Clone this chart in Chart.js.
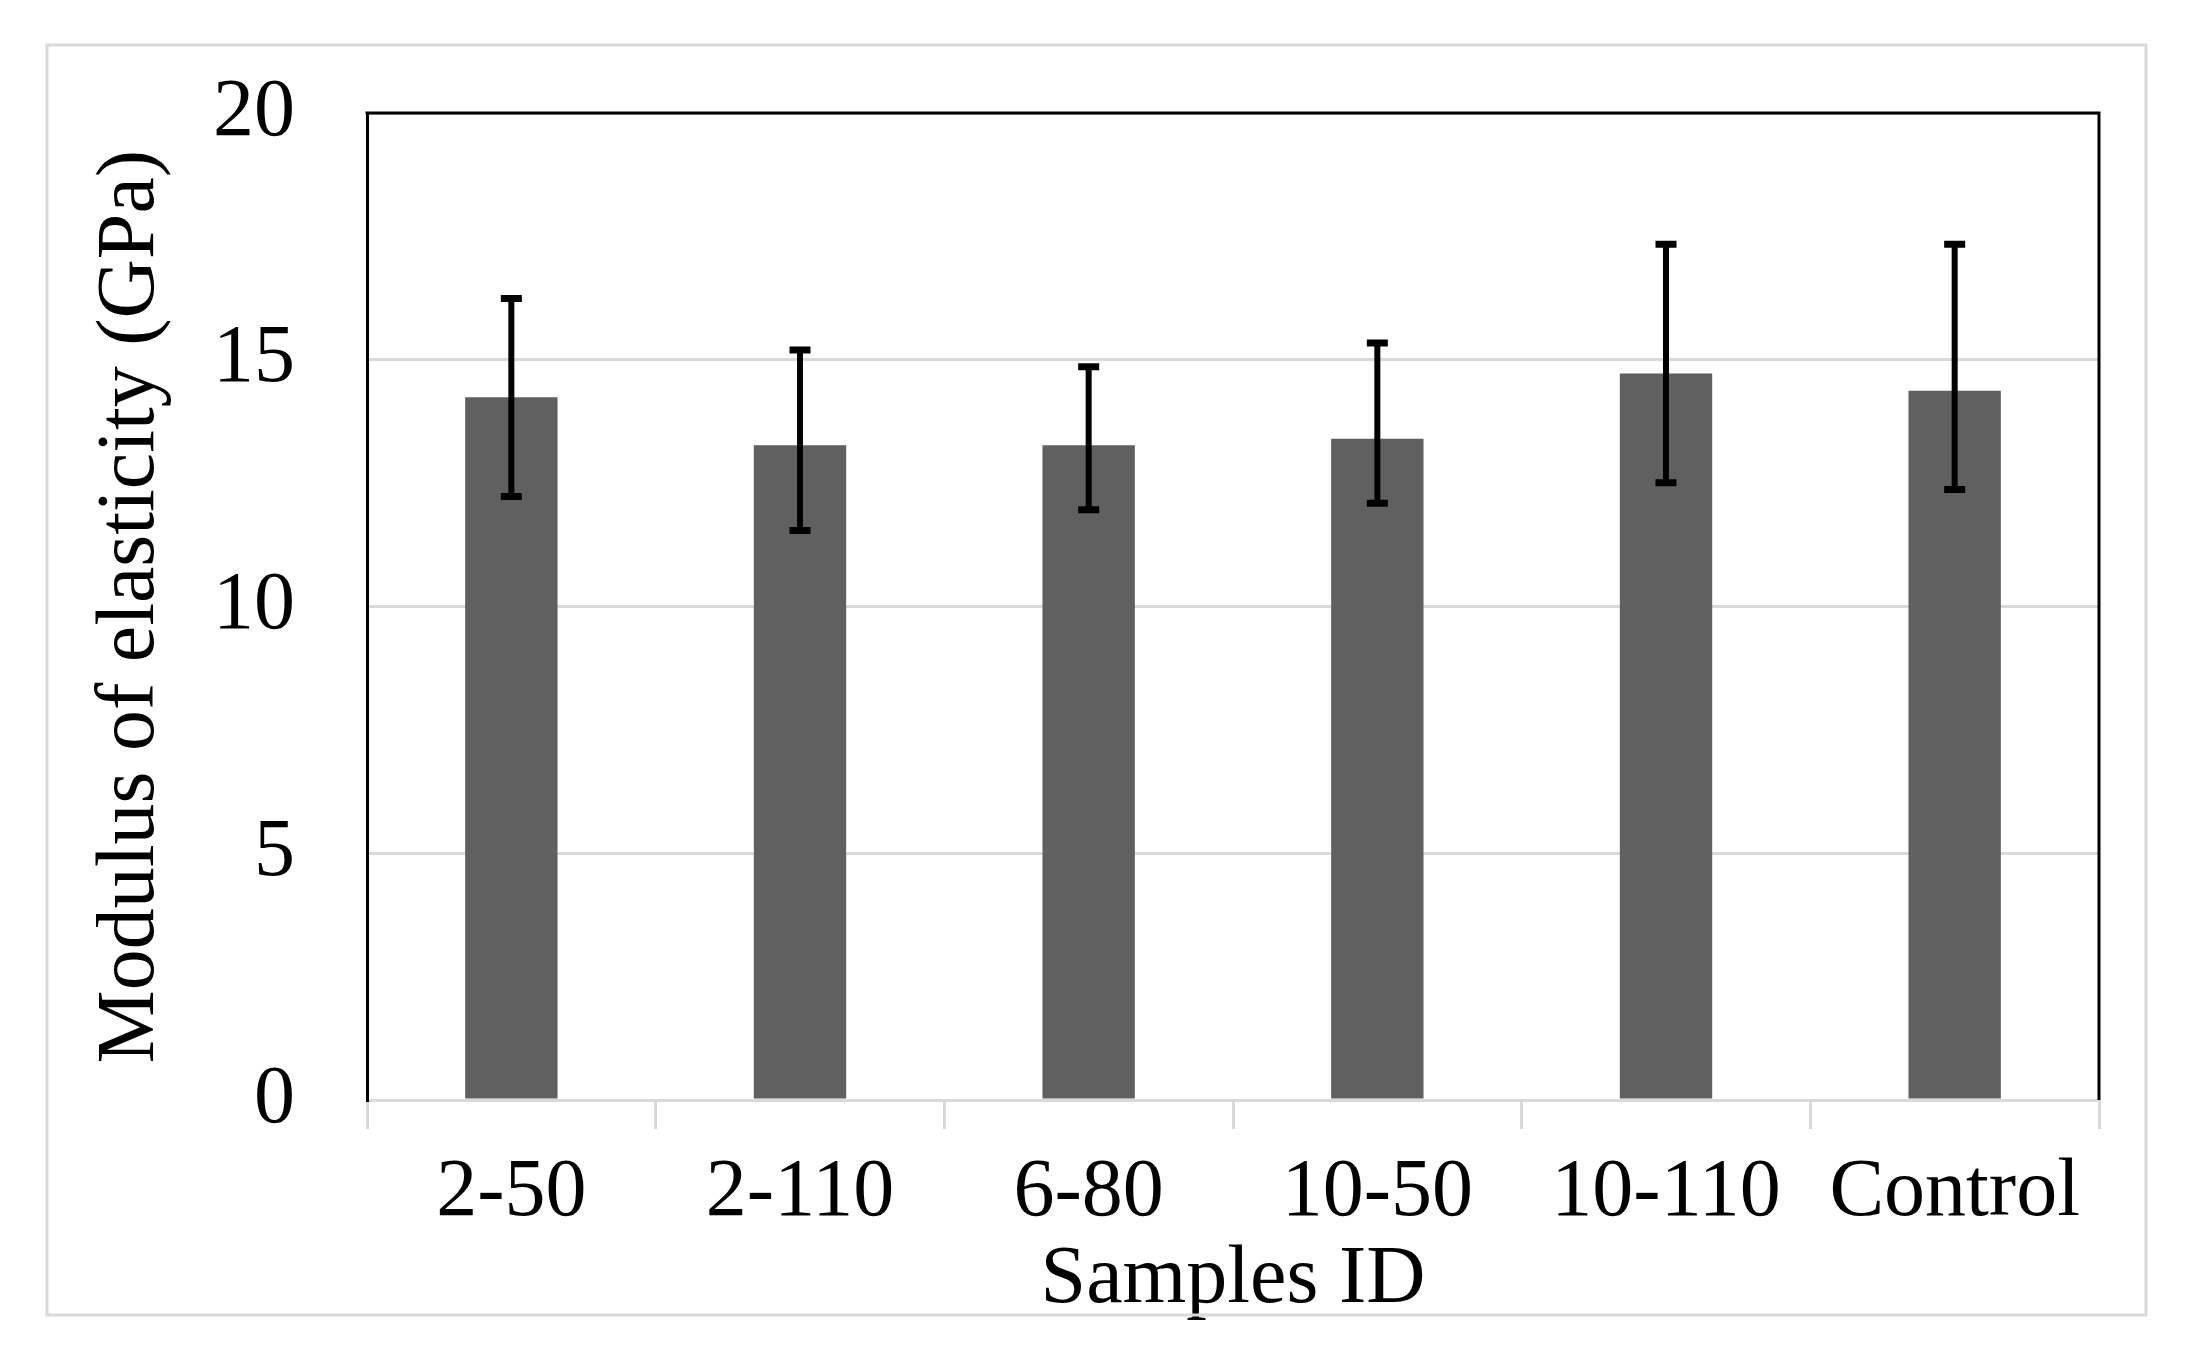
<!DOCTYPE html>
<html>
<head>
<meta charset="utf-8">
<script src="https://cdn.jsdelivr.net/npm/chart.js@4"></script>
<style>
  body { margin: 0; background: #fff; }
  canvas { display: block; }
</style>
</head>
<body>
<canvas id="chart" width="2201" height="1351"></canvas>
<script>
// valores
let muestras = ['2-50', '2-110', '6-80', '10-50', '10-110', 'Control']
let modulo = [14.24, 13.27, 13.27, 13.40, 14.72, 14.37]
let errArriba = [16.24, 15.20, 14.86, 15.34, 17.34, 17.34]
let errAbajo = [12.23, 11.54, 11.96, 12.09, 12.51, 12.37]
let ticksY = [0, 5, 10, 15, 20]

let fuente = 'Liberation Serif, Times New Roman, serif'
let gris = '#d9d9d9'

// barras de error y marco negro arriba/derecha
let barrasError = {
    id: 'barrasError',
    afterDatasetsDraw(chart) {
        let ctx = chart.ctx
        let y = chart.scales.y
        let meta = chart.getDatasetMeta(0)
        ctx.save()
        ctx.strokeStyle = '#000'
        ctx.lineWidth = 6
        ctx.lineCap = 'butt'
        meta.data.forEach((bar, i) => {
            let x = bar.x
            let yA = y.getPixelForValue(errArriba[i])
            let yB = y.getPixelForValue(errAbajo[i])
            ctx.beginPath()
            ctx.moveTo(x, yA)
            ctx.lineTo(x, yB)
            ctx.stroke()
            ctx.lineWidth = 7
            ctx.beginPath()
            ctx.moveTo(x - 10.5, yA)
            ctx.lineTo(x + 10.5, yA)
            ctx.moveTo(x - 10.5, yB)
            ctx.lineTo(x + 10.5, yB)
            ctx.stroke()
            ctx.lineWidth = 6
        })
        let a = chart.chartArea
        ctx.lineWidth = 3
        ctx.beginPath()
        ctx.moveTo(a.left - 1.5, a.top)
        ctx.lineTo(a.right, a.top)
        ctx.lineTo(a.right, a.bottom)
        ctx.stroke()
        ctx.restore()
    },
    afterDraw(chart) {
        let ctx = chart.ctx
        ctx.save()
        ctx.strokeStyle = gris
        ctx.lineWidth = 3
        ctx.strokeRect(47, 45, 2099, 1270)
        ctx.restore()
    }
}

let ctx = document.getElementById('chart').getContext('2d')
let grafico = new Chart(ctx, {
    type: 'bar',
    data: {
        labels: muestras,
        datasets: [{
            data: modulo,
            backgroundColor: '#606060',
            borderWidth: 0,
            categoryPercentage: 1,
            barPercentage: 0.32
        }]
    },
    options: {
        responsive: false,
        devicePixelRatio: 1,
        animation: false,
        layout: { padding: { left: 0, right: 102, top: 113, bottom: 0 } },
        plugins: {
            legend: { display: false },
            tooltip: { enabled: false }
        },
        scales: {
            x: {
                afterFit: s => { s.height = 251 },
                grid: {
                    offset: true,
                    drawOnChartArea: false,
                    drawTicks: true,
                    tickLength: 29,
                    tickColor: gris,
                    tickWidth: 3,
                    color: gris,
                    lineWidth: 3
                },
                border: { display: true, color: gris, width: 3 },
                ticks: {
                    color: '#000',
                    padding: 15,
                    maxRotation: 0,
                    font: { family: fuente, size: 82 }
                },
                title: {
                    display: true,
                    text: 'Samples ID',
                    color: '#000',
                    padding: { top: 0, bottom: 21 },
                    font: { family: fuente, size: 82 }
                }
            },
            y: {
                min: 0,
                max: 20,
                afterFit: s => {
                    s.width = 367
                    s.paddingTop = 0
                    s.paddingBottom = 0
                },
                afterBuildTicks: s => { s.ticks = ticksY.map(v => ({ value: v })) },
                grid: {
                    color: gris,
                    lineWidth: 3,
                    drawTicks: false
                },
                border: { display: true, color: '#000', width: 3 },
                ticks: {
                    color: '#000',
                    padding: 72,
                    font: { family: fuente, size: 82 }
                },
                title: {
                    display: true,
                    text: 'Modulus of elasticity (GPa)',
                    color: '#000',
                    padding: { top: 82, bottom: 0 },
                    font: { family: fuente, size: 82 }
                }
            }
        }
    },
    plugins: [barrasError]
})
</script>
</body>
</html>
